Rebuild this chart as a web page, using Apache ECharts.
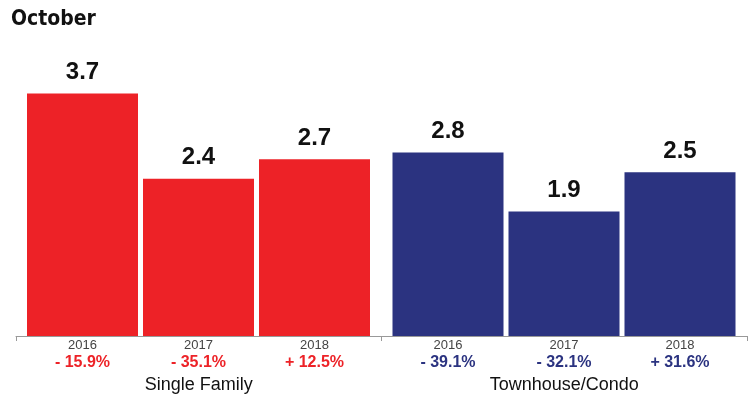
<!DOCTYPE html>
<html>
<head>
<meta charset="UTF-8">
<title>October</title>
<style>
    html,body{margin:0;padding:0;background:#fff;}
    #chart{width:749px;height:401px;}
</style>
</head>
<body>
<div id="chart"></div>
<script src="https://cdn.jsdelivr.net/npm/echarts@6/dist/echarts.min.js"></script>
<script>
    // data
    var groups = ['Single Family', 'Townhouse/Condo'];
    var years = ['2016', '2017', '2018'];
    var singleFamily = [3.7, 2.4, 2.7];
    var townhouse = [2.8, 1.9, 2.5];
    var singleChange = [-15.9, -35.1, 12.5];
    var townChange = [-39.1, -32.1, 31.6];

    var RED = '#ED2227';
    var NAVY = '#2B3380';

    function fmtPct(v){
        return (v < 0 ? '- ' : '+ ') + Math.abs(v).toFixed(1) + '%';
    }

    function yearAxis(idx, changes){
        return {
            type: 'category',
            gridIndex: idx,
            data: years,
            axisLine: {show: false},
            axisTick: {show: false},
            axisLabel: {
                margin: 1,
                formatter: function(val, i){
                    return '{y|' + val + '}\n{p|' + fmtPct(changes[i]) + '}';
                },
                rich: {
                    y: {fontSize: 13, color: '#444', lineHeight: 17, fontFamily: 'Liberation Sans'},
                    p: {fontSize: 16, fontWeight: 'bold', lineHeight: 18, fontFamily: 'Liberation Sans',
                        color: idx === 1 ? RED : NAVY}
                }
            }
        };
    }

    function barSeries(idx, values, color){
        return {
            type: 'bar',
            xAxisIndex: idx,
            yAxisIndex: idx,
            barWidth: 111,
            data: values,
            itemStyle: {color: color},
            label: {
                show: true,
                position: 'top',
                distance: 9,
                color: '#111',
                fontSize: 24,
                fontWeight: 'bold',
                fontFamily: 'Liberation Sans'
            }
        };
    }

    var chart = echarts.init(document.getElementById('chart'));
    var option = {
        animation: false,
        title: {
            text: 'October',
            left: 6,
            top: 4,
            textStyle: {
                fontFamily: 'DejaVu Sans Condensed, Liberation Sans',
                fontSize: 21,
                fontWeight: 'bold',
                color: '#111'
            }
        },
        grid: [
            {left: 16, right: 2, top: 72, bottom: 65},
            {left: 24.5, width: 348, top: 72, bottom: 65},
            {left: 390, width: 348, top: 72, bottom: 65}
        ],
        xAxis: [
            {
                type: 'category',
                gridIndex: 0,
                data: groups,
                axisLine: {show: true, lineStyle: {color: '#999', width: 1}},
                axisTick: {show: true, length: 5, lineStyle: {color: '#999'}},
                axisLabel: {margin: 40, fontSize: 18, color: '#111', fontFamily: 'Liberation Sans'}
            },
            yearAxis(1, singleChange),
            yearAxis(2, townChange)
        ],
        yAxis: [0, 1, 2].map(function(i){
            return {type: 'value', gridIndex: i, min: 0, max: 4.03, show: false};
        }),
        series: [
            barSeries(1, singleFamily, RED),
            barSeries(2, townhouse, NAVY)
        ]
    };
    chart.setOption(option);
</script>
</body>
</html>
